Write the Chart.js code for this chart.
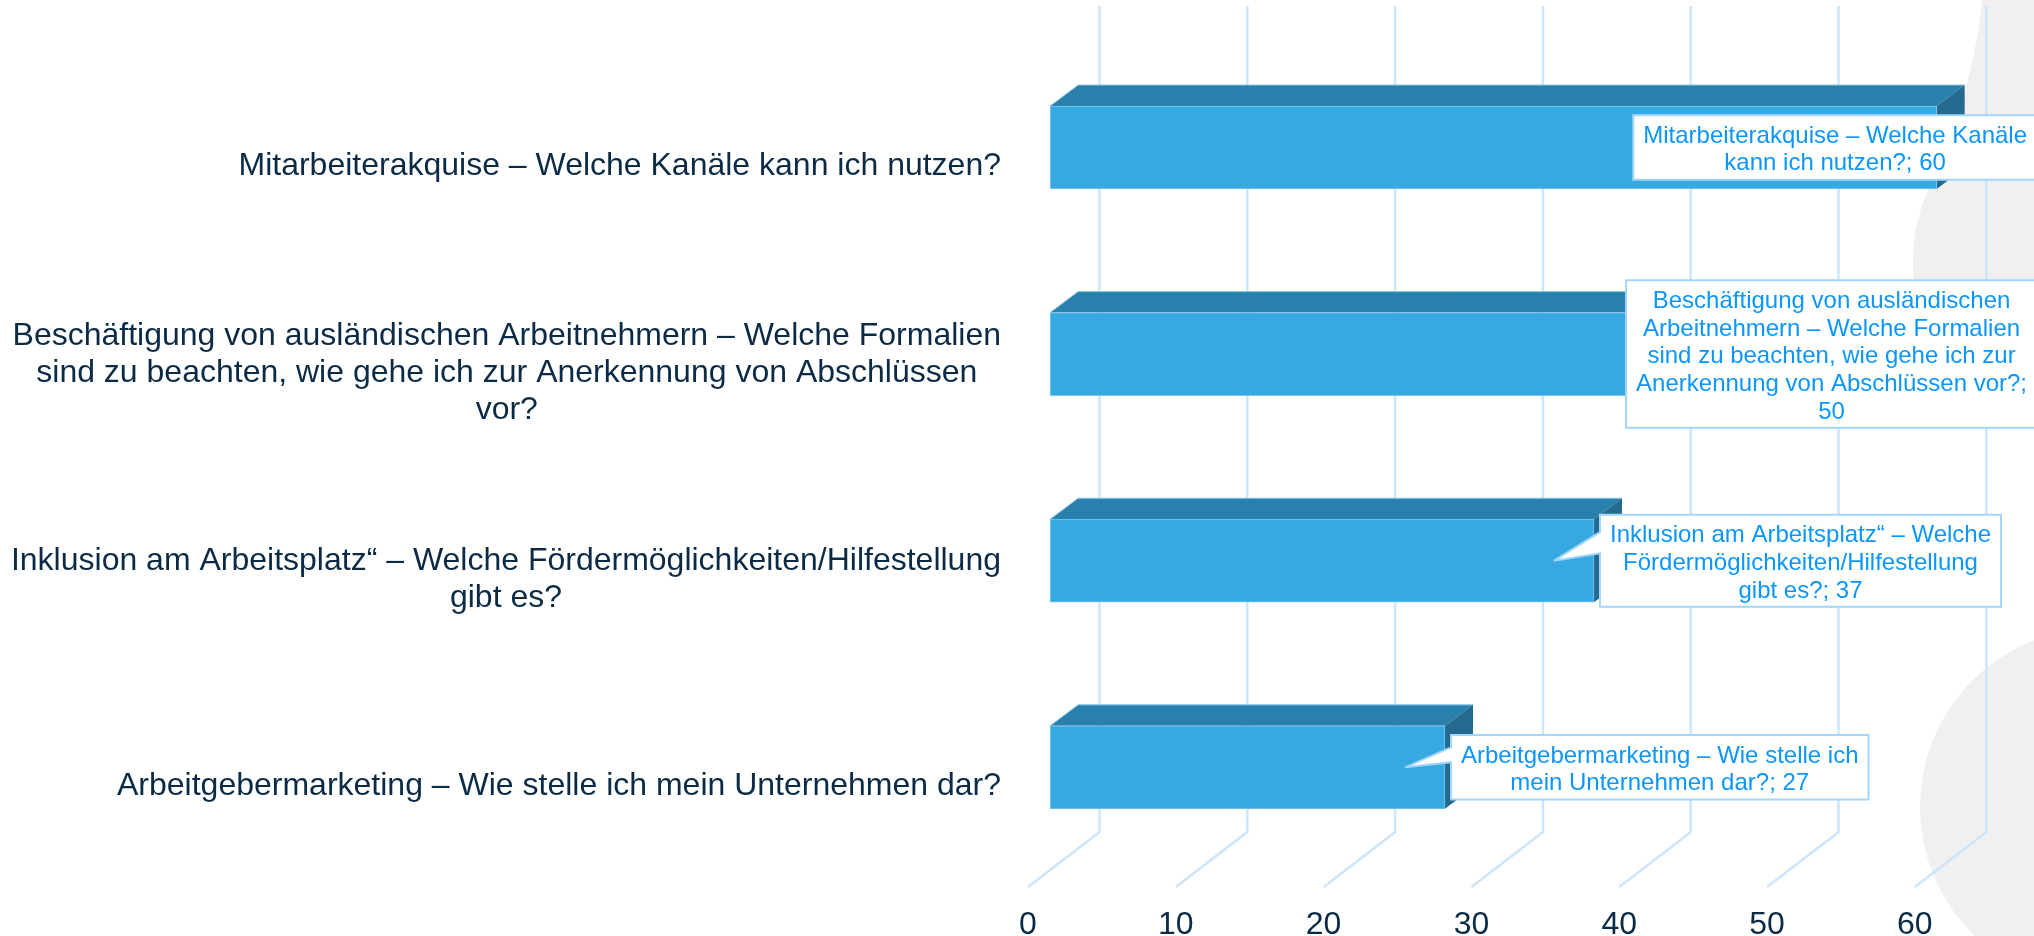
<!DOCTYPE html>
<html lang="de">
<head>
<meta charset="utf-8">
<title>Themen</title>
<script src="https://cdn.jsdelivr.net/npm/chart.js@4/dist/chart.umd.min.js"></script>
<style>
    html, body { margin: 0; padding: 0; background: #ffffff; }
    #chartBox { width: 2034px; height: 936px; }
</style>
</head>
<body>
<div id="chartBox"><canvas id="themenChart"></canvas></div>
<script>
const categories = [
    ["Mitarbeiterakquise – Welche Kanäle kann ich nutzen?"],
    ["Beschäftigung von ausländischen Arbeitnehmern – Welche Formalien", "sind zu beachten, wie gehe ich zur Anerkennung von Abschlüssen", "vor?"],
    ["Inklusion am Arbeitsplatz“ – Welche Fördermöglichkeiten/Hilfestellung", "gibt es?"],
    ["Arbeitgebermarketing – Wie stelle ich mein Unternehmen dar?"]
];
const values = [60, 50, 37, 27];
const calloutLines = [
    ["Mitarbeiterakquise – Welche Kanäle", "kann ich nutzen?; 60"],
    ["Beschäftigung von ausländischen", "Arbeitnehmern – Welche Formalien", "sind zu beachten, wie gehe ich zur", "Anerkennung von Abschlüssen vor?;", "50"],
    ["Inklusion am Arbeitsplatz“ – Welche", "Fördermöglichkeiten/Hilfestellung", "gibt es?; 37"],
    ["Arbeitgebermarketing – Wie stelle ich", "mein Unternehmen dar?; 27"]
];

const FONT = "'Liberation Sans', Arial, sans-serif";
const TEXT_DARK = "#0b2a45";
const TEXT_BLUE = "#0c96fb";
const GRID_BLUE = "#cce6fc";
const BOX_BLUE = "#a3d6ff";

// 3d look of the original: wall and floor of the grid, depth of the bars
const FLOOR_DX = 71.5, FLOOR_DY = 55, WALL_HEIGHT = 826;
const BAR_DX = 28, BAR_DY = 21;

const backgroundShapes = {
    id: "backgroundShapes",
    beforeDraw(chart) {
        const ctx = chart.ctx;
        ctx.save();
        ctx.fillStyle = "#f0f0f0";
        ctx.beginPath();
        ctx.moveTo(1982, 0);
        ctx.bezierCurveTo(1976, 60, 1958, 125, 1933, 180);
        ctx.bezierCurveTo(1920, 205, 1912, 235, 1913, 265);
        ctx.lineTo(1916, 340);
        ctx.lineTo(2034, 340);
        ctx.lineTo(2034, 0);
        ctx.closePath();
        ctx.fill();
        ctx.beginPath();
        ctx.arc(2099, 807, 179, 0, Math.PI * 2);
        ctx.fill();
        ctx.restore();
    }
};

const wallAndBars = {
    id: "wallAndBars",
    beforeDatasetsDraw(chart) {
        const ctx = chart.ctx;
        const xAxis = chart.scales.x;
        const floorY = chart.chartArea.bottom + 16.5;

        ctx.save();
        ctx.strokeStyle = GRID_BLUE;
        ctx.lineWidth = 2.5;
        ctx.lineJoin = "miter";
        xAxis.ticks.forEach(function (tick) {
            const px = xAxis.getPixelForValue(tick.value);
            ctx.beginPath();
            ctx.moveTo(px, floorY);
            ctx.lineTo(px + FLOOR_DX, floorY - FLOOR_DY);
            ctx.lineTo(px + FLOOR_DX, floorY - FLOOR_DY - WALL_HEIGHT);
            ctx.stroke();
        });

        chart.getDatasetMeta(0).data.forEach(function (bar) {
            const top = bar.y - bar.height / 2;
            const bottom = bar.y + bar.height / 2;

            // top face
            ctx.fillStyle = "#2a80ac";
            ctx.beginPath();
            ctx.moveTo(bar.base, top);
            ctx.lineTo(bar.base + BAR_DX, top - BAR_DY);
            ctx.lineTo(bar.x + BAR_DX, top - BAR_DY);
            ctx.lineTo(bar.x, top);
            ctx.closePath();
            ctx.fill();
            ctx.strokeStyle = "#8cc9ea";
            ctx.lineWidth = 1;
            ctx.beginPath();
            ctx.moveTo(bar.base, top);
            ctx.lineTo(bar.base + BAR_DX, top - BAR_DY);
            ctx.lineTo(bar.x + BAR_DX, top - BAR_DY);
            ctx.stroke();

            // side face
            ctx.fillStyle = "#236a8e";
            ctx.beginPath();
            ctx.moveTo(bar.x, top);
            ctx.lineTo(bar.x + BAR_DX, top - BAR_DY);
            ctx.lineTo(bar.x + BAR_DX, bottom - BAR_DY);
            ctx.lineTo(bar.x, bottom);
            ctx.closePath();
            ctx.fill();
        });
        ctx.restore();
    },
    afterDatasetsDraw(chart) {
        const ctx = chart.ctx;
        const bars = chart.getDatasetMeta(0).data;

        ctx.save();
        ctx.textBaseline = "middle";
        ctx.textAlign = "center";

        // category labels, each block centred on its longest line
        ctx.font = "32px " + FONT;
        ctx.fillStyle = TEXT_DARK;
        categories.forEach(function (lines, i) {
            const maxWidth = Math.max.apply(null, lines.map(function (line) { return ctx.measureText(line).width; }));
            const centerX = 1001 - maxWidth / 2;
            const startY = bars[i].y + 19 - (lines.length - 1) * 36.8 / 2;
            lines.forEach(function (line, n) {
                ctx.fillText(line, centerX, startY + n * 36.8);
            });
        });

        // callouts
        ctx.font = "24px " + FONT;
        calloutLines.forEach(function (lines, i) {
            const bar = bars[i];
            const textWidth = Math.max.apply(null, lines.map(function (line) { return ctx.measureText(line).width; }));
            const boxWidth = textWidth + 20;
            const boxHeight = lines.length * 27.7 + 9;
            const top = bar.y - boxHeight / 2;
            const bottom = bar.y + boxHeight / 2;
            let left = bar.x + 6;
            const pushedBack = left + boxWidth > 2037;
            if (pushedBack) {
                left = 2037 - boxWidth;
            }
            const right = left + boxWidth;

            ctx.beginPath();
            ctx.moveTo(left, top);
            ctx.lineTo(right, top);
            ctx.lineTo(right, bottom);
            ctx.lineTo(left, bottom);
            if (!pushedBack) {
                ctx.lineTo(left, top + boxHeight * 0.42);
                ctx.lineTo(bar.x - 40, bar.y);
                ctx.lineTo(left, top + boxHeight * 0.19);
            }
            ctx.closePath();
            ctx.fillStyle = "#ffffff";
            ctx.fill();
            ctx.strokeStyle = BOX_BLUE;
            ctx.lineWidth = 2;
            ctx.miterLimit = 2;
            ctx.stroke();

            ctx.fillStyle = TEXT_BLUE;
            lines.forEach(function (line, n) {
                ctx.fillText(line, left + boxWidth / 2, top + 7 + 27.7 * (n + 0.5));
            });
        });
        ctx.restore();
    }
};

new Chart(document.getElementById("themenChart"), {
    type: "bar",
    data: {
        labels: categories.map(function (lines) { return lines.join(" "); }),
        datasets: [{
            label: "Themen",
            data: values,
            xAxisID: "xBars",
            base: 0.5,
            barThickness: 83,
            backgroundColor: "#36a9e0",
            borderColor: "#7cc6ee",
            borderWidth: 1,
            borderSkipped: false
        }]
    },
    options: {
        indexAxis: "y",
        responsive: true,
        maintainAspectRatio: false,
        animation: false,
        layout: {
            padding: { left: 1028, right: 34, top: 44.2, bottom: 0 }
        },
        plugins: {
            legend: { display: false },
            tooltip: { enabled: false }
        },
        scales: {
            x: {
                type: "linear",
                min: 0,
                max: 65.76,
                grid: { display: false },
                border: { display: false },
                ticks: {
                    stepSize: 10,
                    includeBounds: false,
                    maxRotation: 0,
                    padding: 31,
                    color: TEXT_DARK,
                    font: { family: FONT, size: 32, lineHeight: 1 }
                },
                afterFit: function (scale) {
                    scale.height = 65.4;
                }
            },
            // the bars of the original run on a slightly wider scale than the axis under them
            xBars: {
                type: "linear",
                axis: "x",
                display: false,
                min: -0.987,
                max: 64.25
            },
            y: {
                display: false
            }
        }
    },
    plugins: [backgroundShapes, wallAndBars]
});
</script>
</body>
</html>
